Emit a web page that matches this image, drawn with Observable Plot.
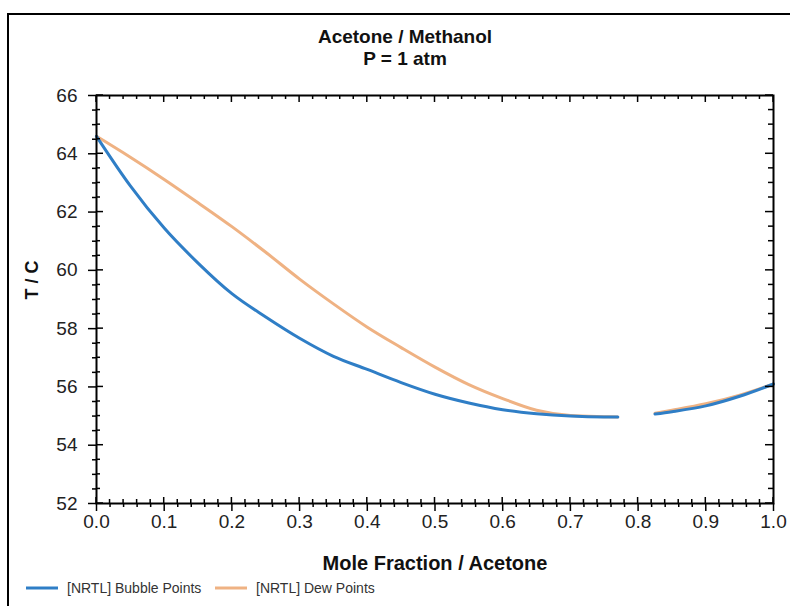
<!DOCTYPE html>
<html>
<head>
<meta charset="utf-8">
<script src="https://cdn.jsdelivr.net/npm/d3@7"></script>
<script src="https://cdn.jsdelivr.net/npm/@observablehq/plot@0.6"></script>
<style>
  html, body { margin: 0; padding: 0; background: #fff; }
  #chart svg { display: block; }
</style>
</head>
<body>
<div id="chart"></div>
<script>
// ---- Data ----
const bubbleX = [0, 0.05, 0.1, 0.15, 0.2, 0.25, 0.3, 0.35, 0.4, 0.45, 0.5, 0.55, 0.6, 0.65, 0.7, 0.75, 0.77, 0.8, 0.825, 0.85, 0.9, 0.95, 1.0];
const bubbleT = [64.6, 62.9, 61.45, 60.25, 59.2, 58.4, 57.67, 57.05, 56.6, 56.15, 55.75, 55.45, 55.22, 55.08, 55.0, 54.97, 54.97, null, 55.07, 55.15, 55.35, 55.68, 56.1];
const dewX = [0, 0.05, 0.1, 0.15, 0.2, 0.25, 0.3, 0.35, 0.4, 0.45, 0.5, 0.55, 0.6, 0.65, 0.7, 0.75, 0.77, 0.8, 0.825, 0.85, 0.9, 0.95, 1.0];
const dewT = [64.6, 63.88, 63.12, 62.32, 61.5, 60.62, 59.7, 58.85, 58.05, 57.35, 56.68, 56.08, 55.6, 55.2, 55.02, 54.98, 54.97, null, 55.1, 55.2, 55.42, 55.72, 56.1];
const xTicks = [0, 0.1, 0.2, 0.3, 0.4, 0.5, 0.6, 0.7, 0.8, 0.9, 1.0];
const yTicks = [52, 54, 56, 58, 60, 62, 64, 66];
const titleLines = ["Acetone / Methanol", "P = 1 atm"];
const xLabel = "Mole Fraction / Acetone";
const yLabel = "T / C";
const seriesNames = ["[NRTL] Bubble Points", "[NRTL] Dew Points"];
const seriesColors = ["#2f7ec6", "#efb283"];

const bubble = bubbleX.map((x, i) => ({x, T: bubbleT[i]}));
const dew = dewX.map((x, i) => ({x, T: dewT[i]}));
const xMinor = d3.range(0, 1.0001, 0.02).filter(v => Math.abs(v * 10 - Math.round(v * 10)) > 1e-6);
const yMinor = d3.range(52, 66.0001, 0.5).filter(v => Math.abs(v / 2 - Math.round(v / 2)) > 1e-6);

const font = "'Liberation Sans', Arial, sans-serif";

const plot = Plot.plot({
  width: 790,
  height: 606,
  marginLeft: 96,
  marginRight: 17,
  marginTop: 95,
  marginBottom: 103,
  x: {domain: [0, 1]},
  y: {domain: [52, 66]},
  style: {fontFamily: font, color: "#000", background: "#fff", overflow: "visible"},
  marks: [
    Plot.axisX(xTicks, {anchor: "bottom", tickSize: 8, tickPadding: 3, tickFormat: d => d.toFixed(1), fontSize: 19, fill: "#222", strokeWidth: 1.5, label: null}),
    Plot.axisX(xMinor, {anchor: "bottom", tickSize: 4, tickFormat: () => "", strokeWidth: 1.5, label: null}),
    Plot.axisY(yTicks, {anchor: "left", tickSize: 8, tickPadding: 11, fontSize: 19, fill: "#222", strokeWidth: 1.5, label: null}),
    Plot.axisY(yMinor, {anchor: "left", tickSize: 4, tickFormat: () => "", strokeWidth: 1.5, label: null}),
    Plot.line(dew, {x: "x", y: "T", stroke: seriesColors[1], strokeWidth: 3, curve: "monotone-x"}),
    Plot.line(bubble, {x: "x", y: "T", stroke: seriesColors[0], strokeWidth: 3, curve: "monotone-x"}),
    Plot.frame({stroke: "#000", strokeWidth: 2}),
    Plot.text([titleLines[0]], {frameAnchor: "top", dx: -30, dy: -66, fontSize: 19, fontWeight: "bold", fill: "#111"}),
    Plot.text([titleLines[1]], {frameAnchor: "top", dx: -30, dy: -44, fontSize: 19, fontWeight: "bold", fill: "#111"}),
    Plot.text([xLabel], {frameAnchor: "bottom", dy: 66, fontSize: 20, fontWeight: "bold", fill: "#111"}),
    Plot.text([yLabel], {frameAnchor: "left", dx: -64, rotate: -90, fontSize: 18, fontWeight: "bold", fill: "#111"})
  ]
});

document.getElementById("chart").appendChild(plot);

// Inward ticks on all four sides, placed with the plot's own scales
const sx = plot.scale("x"), sy = plot.scale("y");
const svg = d3.select(plot);
const frameTop = 95, frameBottom = 606 - 103, frameLeft = 96, frameRight = 790 - 17;
const g = svg.append("g").attr("stroke", "#000").attr("stroke-width", 1.5);
for (const v of xTicks) {
  const px = sx.apply(v);
  g.append("line").attr("x1", px).attr("x2", px).attr("y1", frameBottom).attr("y2", frameBottom - 6);
  g.append("line").attr("x1", px).attr("x2", px).attr("y1", frameTop).attr("y2", frameTop + 7);
}
for (const v of xMinor) {
  const px = sx.apply(v);
  g.append("line").attr("x1", px).attr("x2", px).attr("y1", frameBottom).attr("y2", frameBottom - 4);
  g.append("line").attr("x1", px).attr("x2", px).attr("y1", frameTop).attr("y2", frameTop + 4);
}
for (const v of yTicks) {
  const py = sy.apply(v);
  g.append("line").attr("y1", py).attr("y2", py).attr("x1", frameLeft).attr("x2", frameLeft + 7);
  g.append("line").attr("y1", py).attr("y2", py).attr("x1", frameRight).attr("x2", frameRight - 8);
}
for (const v of yMinor) {
  const py = sy.apply(v);
  g.append("line").attr("y1", py).attr("y2", py).attr("x1", frameLeft).attr("x2", frameLeft + 4);
  g.append("line").attr("y1", py).attr("y2", py).attr("x1", frameRight).attr("x2", frameRight - 5);
}

// Outer border (top and left visible)
svg.append("path").attr("d", "M8,606V14H790").attr("fill", "none").attr("stroke", "#000").attr("stroke-width", 2);

// Legend
const legend = svg.append("g").attr("font-family", font).attr("font-size", 14).attr("fill", "#333").attr("text-anchor", "start");
const legendPos = [{x0: 26, x1: 58, tx: 67}, {x0: 215, x1: 247, tx: 256}];
seriesNames.forEach((name, i) => {
  const p = legendPos[i];
  legend.append("line").attr("x1", p.x0).attr("x2", p.x1).attr("y1", 588).attr("y2", 588)
    .attr("stroke", seriesColors[i]).attr("stroke-width", 3);
  legend.append("text").attr("x", p.tx).attr("y", 588).attr("dy", "0.35em").attr("text-anchor", "start").text(name);
});
</script>
</body>
</html>
